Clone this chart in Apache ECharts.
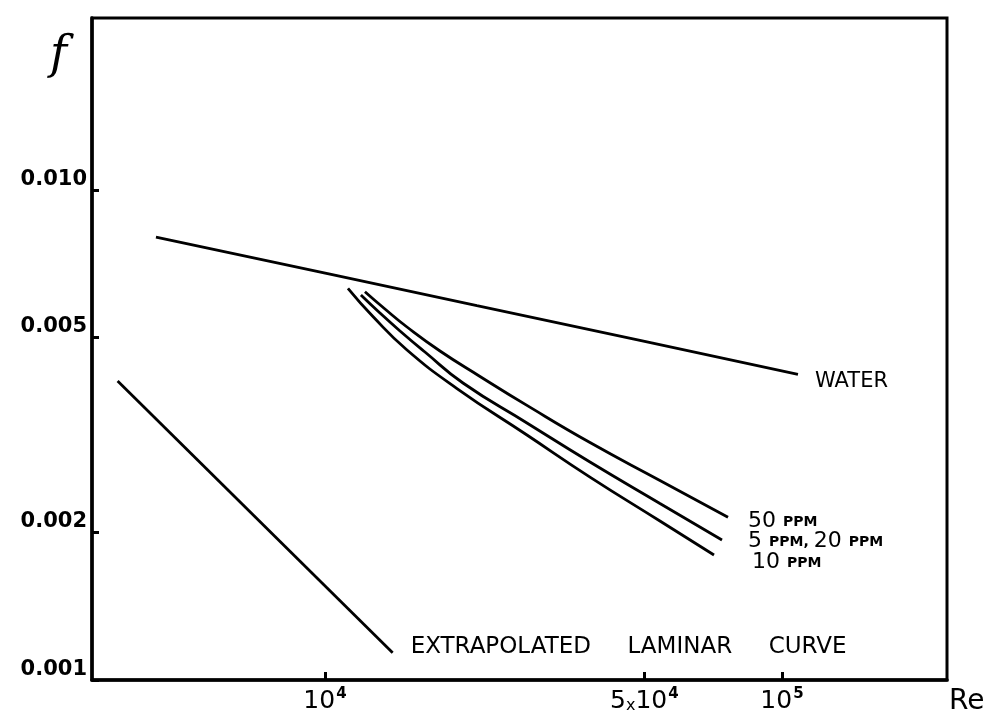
<!DOCTYPE html>
<html>
<head>
<meta charset="utf-8">
<script src="https://cdn.jsdelivr.net/npm/echarts@6/dist/echarts.min.js"></script>
<style>
html,body{margin:0;padding:0;background:#fff;}
#chart{width:1001px;height:724px;}
</style>
</head>
<body>
<div id="chart"></div>
<script>
// ---- data (Reynolds number vs Fanning friction factor, log-log) ----
const xTicks = [10000, 50000, 100000];
const yTicks = [0.001, 0.002, 0.005, 0.010];

const reWater = [4268, 10255, 21500, 48900, 108400];
const fWater  = [0.008017, 0.006733, 0.005805, 0.004932, 0.004206];

const reLaminar = [3518, 14065];
const fLaminar  = [0.004075, 0.001137];

const re50 = [12232, 13530, 15118, 17853, 21841, 27669, 38010, 54075, 76200];
const f50  = [0.006200, 0.005716, 0.005253, 0.004693, 0.004164, 0.003634, 0.003052, 0.002554, 0.002148];

const re5_20 = [11987, 13193, 14595, 16550, 20046, 27669, 38010, 54075, 73930];
const f5_20  = [0.006106, 0.005610, 0.005156, 0.004670, 0.004038, 0.003346, 0.002785, 0.002292, 0.001930];

const re10 = [11228, 12735, 15118, 19450, 27669, 38010, 54075, 71010];
const f10  = [0.006301, 0.005518, 0.004715, 0.003934, 0.003162, 0.002595, 0.002111, 0.001799];

function pairs(xs, ys){ return xs.map((x,i)=>[x, ys[i]]); }

const chart = echarts.init(document.getElementById('chart'), null, {renderer:'canvas'});
const FONT = 'DejaVu Sans';
const lineStyle = {color:'#000', width:2.8};

function mkSeries(name, data, smooth, labelText, offset, fontSize, rich){
  return {
    name, type:'line', data, smooth, showSymbol:false, symbol:'none',
    lineStyle, clip:false, silent:true,
    endLabel:{
      show:true, distance:0, offset, align:'left', verticalAlign:'middle',
      formatter: labelText, color:'#000', fontFamily:FONT, fontSize,
      rich: rich || {}
    }
  };
}

const ppmRich = {
  d:{fontSize:22, fontFamily:FONT, color:'#000'},
  p:{fontSize:14, fontFamily:FONT, fontWeight:'bold', color:'#000', padding:[3,0,0,0]}
};

chart.setOption({
  animation:false,
  backgroundColor:'#fff',
  grid:{left:92, right:54, top:18, bottom:44, show:true, borderColor:'#000', borderWidth:3, outerBoundsMode:'none'},
  xAxis:{
    type:'log', logBase:10, min:3092, max:229700,
    name:'Re', nameLocation:'end', nameGap:2,
    nameTextStyle:{fontFamily:FONT, fontSize:28, color:'#000', align:'left', verticalAlign:'top', padding:[8,0,0,0]},
    axisLine:{show:true, lineStyle:{color:'#000', width:3.5}},
    axisTick:{show:true, inside:true, length:8, customValues:xTicks, lineStyle:{color:'#000', width:3}},
    minorTick:{show:false},
    splitLine:{show:false},
    axisLabel:{
      show:true, customValues:xTicks, margin:7, color:'#000',
      formatter:function(v){
        if (Math.abs(v-10000)<1) return '{n|10}{s|4}';
        if (Math.abs(v-50000)<1) return '{n|5}{x|x}{n|10}{s|4}';
        if (Math.abs(v-100000)<1) return '{n|10}{s|5}';
        return '';
      },
      rich:{
        n:{fontFamily:FONT, fontSize:25, color:'#000', verticalAlign:'bottom'},
        x:{fontFamily:FONT, fontSize:16, color:'#000', verticalAlign:'bottom'},
        s:{fontFamily:FONT, fontSize:15, fontWeight:'bold', color:'#000', verticalAlign:'top', padding:[0,0,12,1]}
      }
    }
  },
  yAxis:{
    type:'log', logBase:10, min:0.001, max:0.02244,
    axisLine:{show:true, lineStyle:{color:'#000', width:3.5}},
    axisTick:{show:true, inside:true, length:7, customValues:yTicks, lineStyle:{color:'#000', width:3}},
    minorTick:{show:false},
    splitLine:{show:false},
    axisLabel:{
      show:true, customValues:yTicks, margin:5, color:'#000',
      fontFamily:FONT, fontWeight:'bold', fontSize:21, verticalAlign:'bottom',
      formatter:function(v){ return v.toFixed(3); }
    }
  },
  graphic:[
    {type:'text', left:50, top:33, style:{text:'f', font:'italic 46px "DejaVu Serif"', fill:'#000'}}
  ],
  series:[
    mkSeries('water', pairs(reWater, fWater), false, 'WATER', [17,7], 21),
    mkSeries('laminar', pairs(reLaminar, fLaminar), false, 'EXTRAPOLATED     LAMINAR     CURVE', [18,-6], 23),
    mkSeries('50 ppm', pairs(re50, f50), 0.5, '{d|50} {p|PPM}', [20,4], 22, ppmRich),
    mkSeries('5 ppm, 20 ppm', pairs(re5_20, f5_20), 0.5, '{d|5} {p|PPM}{p|, }{d|20} {p|PPM}', [26,1], 22, ppmRich),
    mkSeries('10 ppm', pairs(re10, f10), 0.5, '{d|10} {p|PPM}', [38,7], 22, ppmRich)
  ]
});
</script>
</body>
</html>
